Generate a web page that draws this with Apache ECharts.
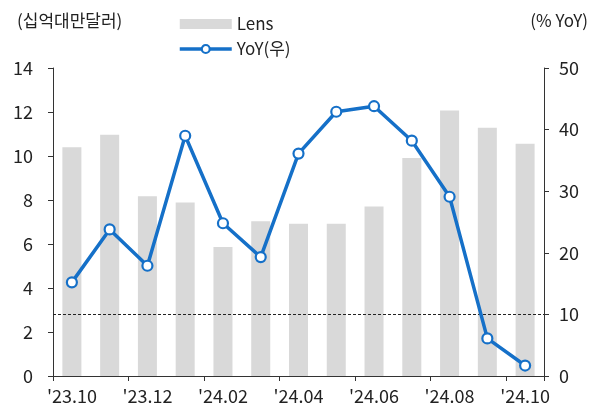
<!DOCTYPE html>
<html>
<head>
<meta charset="utf-8">
<script src="https://cdn.jsdelivr.net/npm/echarts@6/dist/echarts.min.js"></script>
<style>
  html, body { margin: 0; padding: 0; background: #fff; }
  #main { width: 592px; height: 406px; }
</style>
</head>
<body>
<div id="main"></div>
<script>
// 월별 카테고리
var categories = ["'23.10", "'23.11", "'23.12", "'24.01", "'24.02", "'24.03", "'24.04",
  "'24.05", "'24.06", "'24.07", "'24.08", "'24.09", "'24.10"];
// Lens 매출 (십억대만달러)
var lensValues = [10.4, 10.97, 8.17, 7.89, 5.86, 7.03, 6.92, 6.92, 7.71, 9.91, 12.07, 11.28, 10.56];
// YoY (%)
var yoyValues = [15.2, 23.8, 17.9, 39.0, 24.8, 19.3, 36.1, 42.9, 43.8, 38.2, 29.1, 6.1, 1.7];
var leftTicks = [0, 2, 4, 6, 8, 10, 12, 14];
var rightTicks = [0, 10, 20, 30, 40, 50];
var refLine = 10;

var font = '"Noto Sans CJK KR", "Noto Sans", sans-serif';
var axisColor = '#333';
var textColor = '#222';
var blue = '#1570c8';

var myChart = echarts.init(document.getElementById('main'));
myChart.setOption({
  animation: false,
  textStyle: { fontFamily: font },
  grid: { left: 53, right: 48, top: 68, bottom: 30 },
  graphic: [
    { type: 'text', left: 17, top: 12, style: { text: '(십억대만달러)', font: '17px ' + font, fill: textColor } },
    { type: 'text', right: 4, top: 12, style: { text: '(% YoY)', font: '17px ' + font, fill: textColor } }
  ],
  legend: {
    orient: 'vertical',
    left: 173,
    top: 10,
    itemGap: 7,
    itemWidth: 52,
    itemHeight: 10,
    textStyle: { fontSize: 17, lineHeight: 18, color: textColor, fontFamily: font, padding: [0, 0, 0, 0] },
    data: [
      { name: 'Lens', icon: 'rect' },
      { name: 'YoY(우)', lineStyle: { width: 3.5, color: blue }, itemStyle: { borderWidth: 2.2 } }
    ]
  },
  xAxis: {
    type: 'category',
    data: categories,
    axisLine: { lineStyle: { color: axisColor } },
    axisTick: { show: true, interval: 1, length: 5, lineStyle: { color: axisColor } },
    axisLabel: { interval: 1, fontSize: 18, color: textColor, margin: 11 }
  },
  yAxis: [
    {
      type: 'value', min: leftTicks[0], max: leftTicks[leftTicks.length - 1], interval: 2,
      splitLine: { show: false },
      axisLine: { show: true, lineStyle: { color: axisColor } },
      axisTick: { show: true, length: 5, lineStyle: { color: axisColor } },
      axisLabel: { fontSize: 18, color: textColor, margin: 20 }
    },
    {
      type: 'value', min: rightTicks[0], max: rightTicks[rightTicks.length - 1], interval: 10,
      splitLine: { show: false },
      axisLine: { show: true, lineStyle: { color: axisColor } },
      axisTick: { show: true, length: 5, lineStyle: { color: axisColor } },
      axisLabel: { fontSize: 18, color: textColor, margin: 15 }
    }
  ],
  series: [
    {
      name: 'Lens',
      type: 'bar',
      data: lensValues,
      barWidth: 19,
      itemStyle: { color: '#d9d9d9' },
      z: 1
    },
    {
      name: 'YoY(우)',
      type: 'line',
      yAxisIndex: 1,
      data: yoyValues,
      symbol: 'circle',
      symbolSize: 10,
      lineStyle: { color: blue, width: 3.5 },
      itemStyle: { color: '#fff', borderColor: blue, borderWidth: 2.2 },
      z: 3,
      markLine: {
        silent: true,
        symbol: 'none',
        label: { show: false },
        lineStyle: { color: '#222', type: [3, 2], width: 1.2 },
        data: [{ yAxis: refLine }],
        z: 2
      }
    }
  ]
});
</script>
</body>
</html>
